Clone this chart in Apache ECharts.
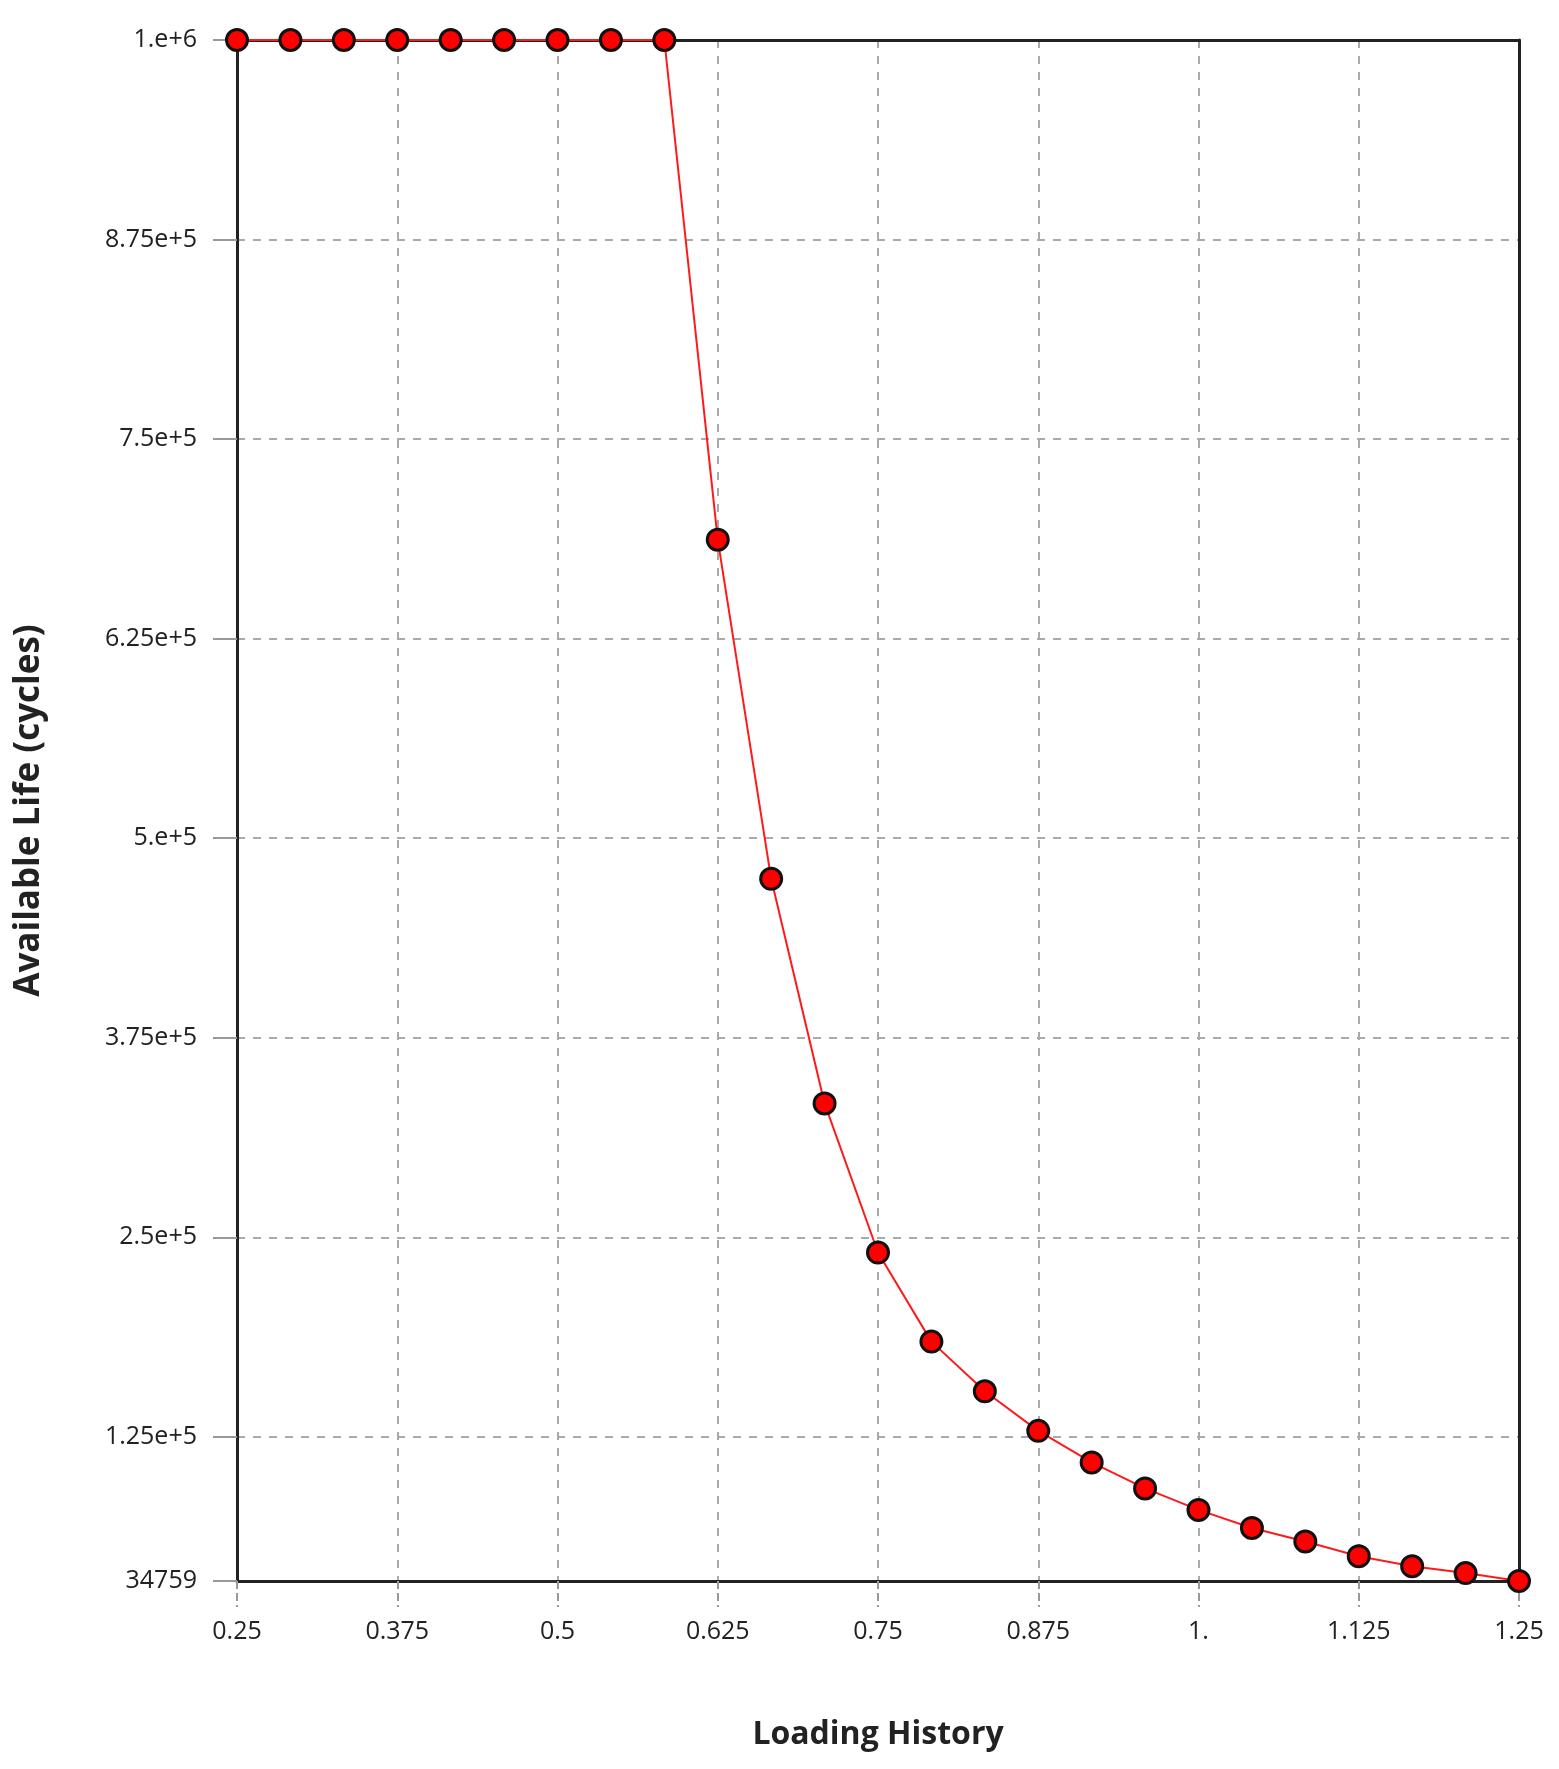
<!DOCTYPE html>
<html><head><meta charset="utf-8">
<script src="https://cdn.jsdelivr.net/npm/echarts@6/dist/echarts.min.js"></script>
<style>html,body{margin:0;padding:0;background:#fff}#c{width:1559px;height:1769px}</style>
</head><body><div id="c"></div>
<script>
const xValues = [0.25,0.291667,0.333333,0.375,0.416667,0.458333,0.5,0.541667,0.583333,0.625,0.666667,0.708333,0.75,0.791667,0.833333,0.875,0.916667,0.958333,1.0,1.041667,1.083333,1.125,1.166667,1.208333,1.25];
const lifeValues = [1000000,1000000,1000000,1000000,1000000,1000000,1000000,1000000,1000000,687000,474600,333900,240500,184700,153600,128800,109000,92750,79300,68000,59500,50300,44000,39700,34759];
const yTicks = [34759,125000,250000,375000,500000,625000,750000,875000,1000000];
const yTickLabels = {34759:'34759',125000:'1.25e+5',250000:'2.5e+5',375000:'3.75e+5',500000:'5.e+5',625000:'6.25e+5',750000:'7.5e+5',875000:'8.75e+5',1000000:'1.e+6'};
const xTicks = [0.25,0.375,0.5,0.625,0.75,0.875,1,1.125,1.25];
const xTickLabels = ['0.25','0.375','0.5','0.625','0.75','0.875','1.','1.125','1.25'];

const font = 'Open Sans';
const chart = echarts.init(document.getElementById('c'));
const frame = {show:true,lineStyle:{color:'#222',width:3}};
chart.setOption({
  animation:false,
  grid:{left:237,right:40,top:40,bottom:188},
  xAxis:[{type:'value',min:0.25,max:1.25,interval:0.125,
    name:'Loading History',nameLocation:'middle',nameGap:138,
    nameTextStyle:{fontFamily:font,fontWeight:'bold',fontSize:32,color:'#222'},
    axisLine:frame,
    axisTick:{show:true,length:26,lineStyle:{color:'#999',width:2,type:'dashed'}},
    axisLabel:{margin:38,fontFamily:font,fontSize:25,color:'#222',
      formatter:v=>{const i=xTicks.findIndex(t=>Math.abs(t-v)<1e-9);return i>=0?xTickLabels[i]:'';}},
    splitLine:{show:true,lineStyle:{color:'#aaa',width:2,type:[8,8]}}},
   {type:'value',position:'top',min:0.25,max:1.25,axisLine:frame,axisTick:{show:false},axisLabel:{show:false},splitLine:{show:false}}],
  yAxis:[{type:'value',min:34759,max:1000000,
    name:'Available Life (cycles)',nameLocation:'middle',nameGap:190,
    nameTextStyle:{fontFamily:font,fontWeight:'bold',fontSize:35,color:'#222'},
    axisLine:frame,
    axisTick:{show:true,length:24,customValues:yTicks,lineStyle:{color:'#999',width:2}},
    axisLabel:{margin:40,fontFamily:font,fontSize:25,color:'#222',customValues:yTicks,
      formatter:v=>yTickLabels[Math.round(v)]||''},
    splitLine:{show:true,lineStyle:{color:'#aaa',width:2,type:[8,8]}}},
   {type:'value',position:'right',min:34759,max:1000000,axisLine:frame,axisTick:{show:false},axisLabel:{show:false},splitLine:{show:false}}],
  series:[{type:'line',data:xValues.map((x,i)=>[x,lifeValues[i]]),
    lineStyle:{color:'#ff1a1a',width:2},
    symbol:'circle',symbolSize:21,
    itemStyle:{color:'#ff0000',borderColor:'#111',borderWidth:3},
    clip:false,z:5}]
});
</script></body></html>
